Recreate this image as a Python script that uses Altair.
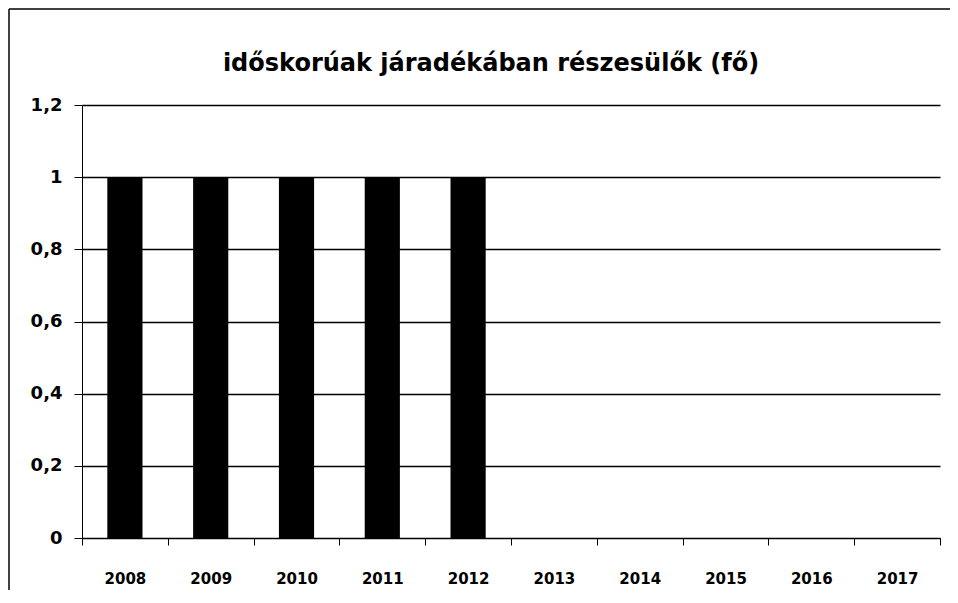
import altair as alt
import pandas as pd

years = ["2008", "2009", "2010", "2011", "2012", "2013", "2014", "2015", "2016", "2017"]
values = [1, 1, 1, 1, 1, None, None, None, None, None]
title_text = "időskorúak járadékában részesülők (fő)"

df = pd.DataFrame({"year": years, "value": values})
tdf = pd.DataFrame({"t": [title_text]})

W, H = 858, 433
FONT = "DejaVu Sans"
PAD = {"left": 74, "top": 97, "right": 10, "bottom": 52}

bars = alt.Chart(df).mark_bar(color="black", width=alt.RelativeBandSize(0.41)).encode(
    x=alt.X("year:N", sort=years,
            scale=alt.Scale(domain=years, paddingInner=0, paddingOuter=0),
            axis=alt.Axis(title=None, labelAngle=0, tickBand="extent", tickSize=7,
                          tickColor="black", domainColor="black", labelPadding=26,
                          labelFont=FONT, labelFontSize=15, labelFontWeight="bold",
                          labelColor="black", grid=False)),
    y=alt.Y("value:Q", scale=alt.Scale(domain=[0, 1.2], nice=False),
            axis=alt.Axis(title=None, values=[0, 0.2, 0.4, 0.6, 0.8, 1.0, 1.2],
                          labelExpr="replace(format(datum.value, '.1~f'), '.', ',')",
                          tickSize=8, tickColor="black", domainColor="black",
                          labelPadding=12, labelFont=FONT, labelFontSize=18,
                          labelFontWeight="bold", labelColor="black",
                          grid=True, gridColor="black", gridWidth=1.3, gridOpacity=1)),
)

title = alt.Chart(tdf).mark_text(font=FONT, fontSize=24, fontWeight="bold",
                                  color="black", align="center", baseline="middle").encode(
    text="t:N", x=alt.value(W / 2 - 20), y=alt.value(-41)
)

top_line = alt.Chart(tdf).mark_rule(color="black", strokeWidth=1.5).encode(
    x=alt.value(-73), x2=alt.value(W + PAD["right"]), y=alt.value(-96)
)
left_line = alt.Chart(tdf).mark_rule(color="black", strokeWidth=1.5).encode(
    x=alt.value(-73), y=alt.value(-96), y2=alt.value(H + PAD["bottom"])
)

chart = alt.layer(top_line, left_line, bars, title).properties(
    width=W, height=H,
    padding=PAD,
    autosize=alt.AutoSizeParams(type="none"),
).configure_view(stroke=None)

chart.save("out.html", embed_options={"renderer": "svg", "actions": False})
